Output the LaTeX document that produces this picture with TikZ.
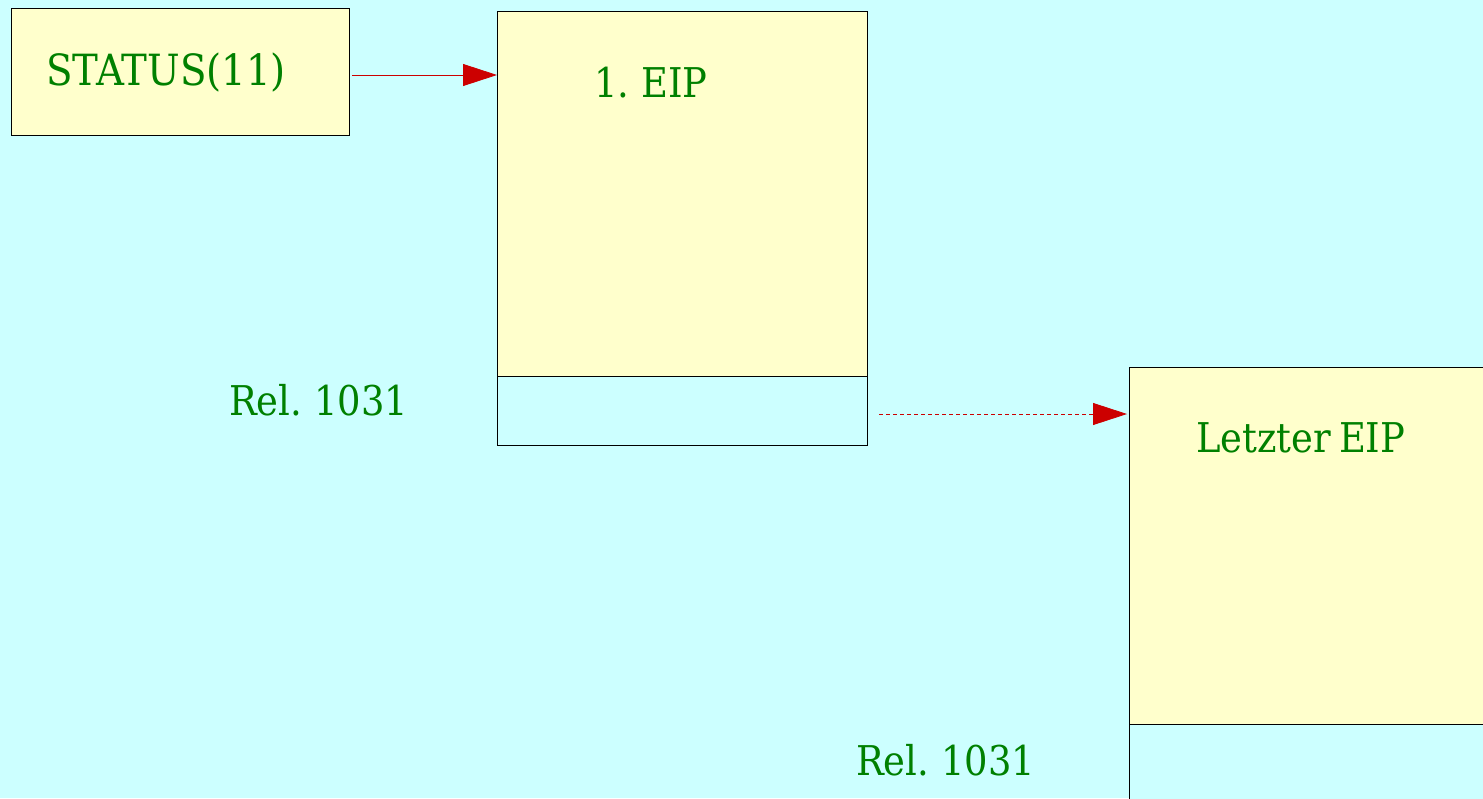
\documentclass[tikz,border=0pt]{standalone}
\usepackage{fontspec}
\setmainfont{DejaVu Serif Condensed}
\usetikzlibrary{arrows.meta}
\definecolor{bgc}{HTML}{CCFFFF}
\definecolor{boxy}{HTML}{FFFFCC}
\definecolor{txtg}{HTML}{008000}
\definecolor{arr}{HTML}{CC0000}
\newcommand{\lblfont}{\fontsize{41}{46}\selectfont\spaceskip=8pt plus 1pt\relax}
\newcommand{\stfont}{\fontsize{43}{48}\selectfont}
\begin{document}
\begin{tikzpicture}[x=1pt,y=-1pt,
  lbl/.style={anchor=base west,inner sep=0pt,text=txtg,font=\lblfont},
  ybox/.style={draw=black,line width=0.8pt,fill=boxy},
  cbox/.style={draw=black,line width=0.8pt,fill=bgc},
  conn/.style={draw=arr,line width=0.8pt,-{Triangle[length=34pt,width=22pt]}}]
\fill[bgc] (0,0) rectangle (1483,798);
\useasboundingbox (0,0) rectangle (1483,798);
% status box
\draw[ybox] (11,8) rectangle (349,135);
\node[lbl,font=\stfont] (status) at (46,85) {STATUS(11)};
\coordinate (s1) at (352,75);
% first EIP
\draw[ybox] (497,11) rectangle (867,376);
\draw[cbox] (497,376) rectangle (867,445);
\coordinate (e1) at (497,75);
\node[lbl] (eip1) at (594,97) {1. EIP};
\node[lbl] (rel1) at (229,415) {Rel. 1031};
% last EIP
\draw[ybox] (1129,367) rectangle (1490,724);
\draw[cbox] (1129,724) rectangle (1490,810);
\node[lbl] (eip2) at (1196,452) {Letzter EIP};
\node[lbl] (rel2) at (856,775) {Rel. 1031};
\coordinate (d1) at (879,414);
\coordinate (d2) at (1127,414);
\draw[conn] (s1) -- (e1);
\draw[conn,dash pattern=on 4pt off 3pt] (d1) -- (d2);
\end{tikzpicture}
\end{document}
